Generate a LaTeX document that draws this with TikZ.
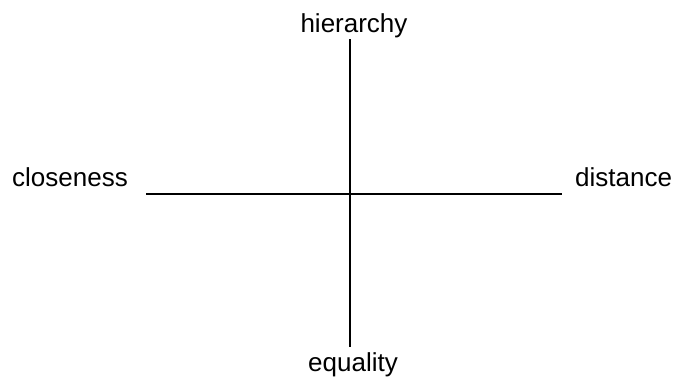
\documentclass[tikz,border=0pt]{standalone}
\usepackage{fontspec}
\setmainfont{Liberation Sans}
\begin{document}
\begin{tikzpicture}[x=1pt,y=-1pt,
  lbl/.style={inner sep=0pt,font=\fontsize{26}{30}\selectfont},
  axis/.style={line width=2pt}]
\useasboundingbox (0,0) rectangle (676,378);
\coordinate (top) at (350,39);
\coordinate (bot) at (350,347);
\coordinate (lft) at (146,194);
\coordinate (rgt) at (562,194);
\draw[axis] (top) -- (bot);
\draw[axis] (lft) -- (rgt);
\node[lbl,anchor=base] (h) at (354,32) {hierarchy};
\node[lbl,anchor=base] (e) at (353,371) {equality};
\node[lbl,anchor=base west] (c) at (12,186) {closeness};
\node[lbl,anchor=base west] (d) at (575,186) {distance};
\end{tikzpicture}
\end{document}
